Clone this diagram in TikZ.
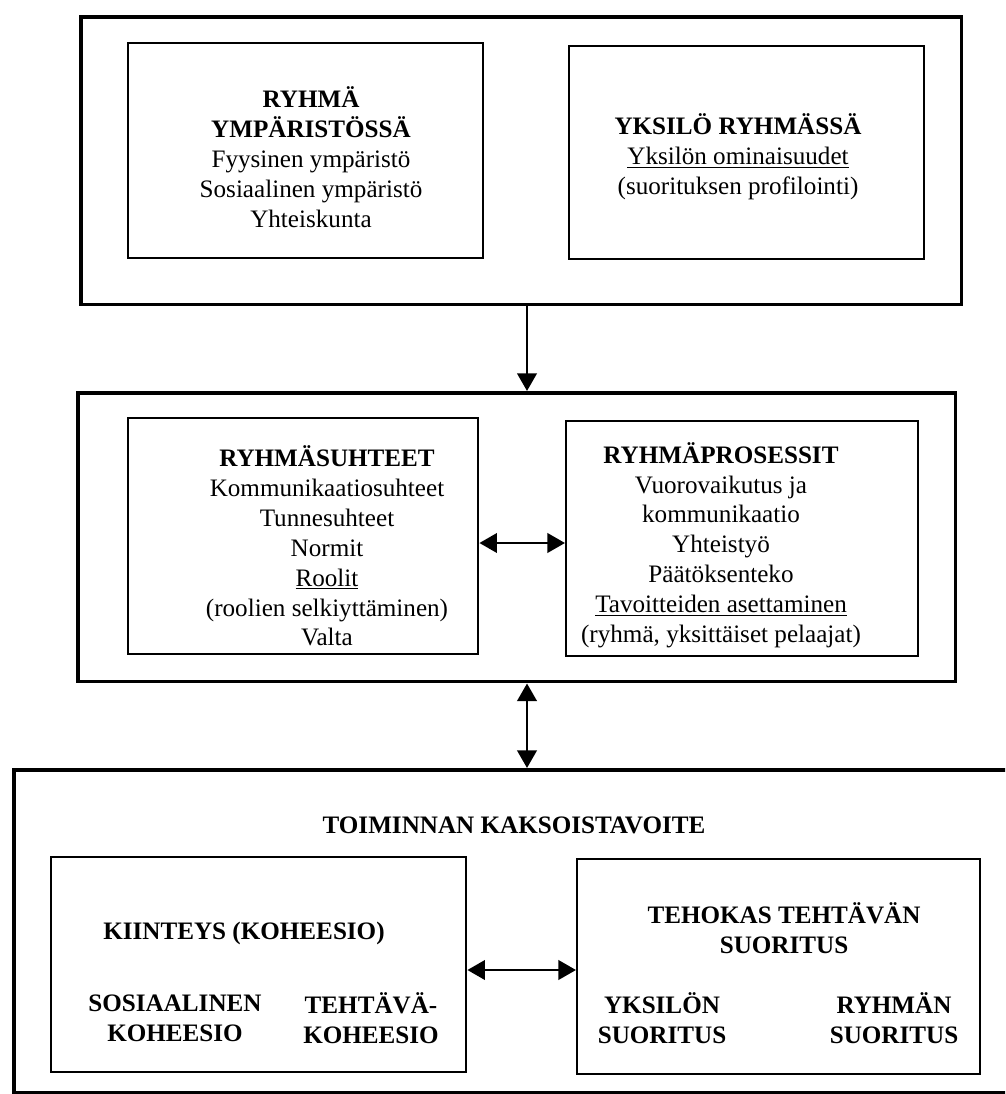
\documentclass[tikz,border=0pt]{standalone}
\usepackage{fontspec}
\setmainfont{Liberation Serif}
\usetikzlibrary{arrows.meta}
\tikzset{
  outbox/.style={draw, line width=2pt, inner sep=0pt, anchor=north west},
  inbox/.style={draw, line width=1.4pt, inner sep=0pt, anchor=north west},
  txt/.style={align=center, inner sep=0pt, font=\fontsize{14.3}{17}\selectfont},
  boldtxt/.style={txt, font=\fontsize{14.3}{17.2}\selectfont\bfseries},
  tip/.style={line width=1.6pt},
  arr/.style={tip, -{Triangle[length=10pt,width=11pt]}},
  dblarr/.style={tip, {Triangle[length=10pt,width=11pt]}-{Triangle[length=10pt,width=11pt]}}
}
\begin{document}
\begin{tikzpicture}[x=0.02cm, y=-0.02cm]
  \clip (0,0) rectangle (1005,1094);

  % ryhma ymparistossa / yksilo ryhmassa
  \node[outbox, minimum width=17.62cm, minimum height=5.76cm] (outA) at (79,15) {};
  \node[inbox, minimum width=7.1cm, minimum height=4.3cm] (envbox) at (127,42) {};
  \node[inbox, minimum width=7.1cm, minimum height=4.26cm] (indbox) at (568,45) {};
  \node[txt] (envtxt) at (311,157)
    {\textbf{RYHMÄ}\\\textbf{YMPÄRISTÖSSÄ}\\Fyysinen ympäristö\\
     Sosiaalinen ympäristö\\Yhteiskunta};
  \node[txt] (indtxt) at (738,157)
    {\textbf{YKSILÖ RYHMÄSSÄ}\\\underline{Yksilön ominaisuudet}\\
     (suorituksen profilointi)};

  % ryhmasuhteet / ryhmaprosessit
  \node[outbox, minimum width=17.56cm, minimum height=5.78cm] (outB) at (76,391) {};
  \node[inbox, minimum width=7.0cm, minimum height=4.72cm] (relbox) at (127,417) {};
  \node[inbox, minimum width=7.04cm, minimum height=4.7cm] (procbox) at (565,420) {};
  \node[txt] (reltxt) at (327,546)
    {\textbf{RYHMÄSUHTEET}\\Kommunikaatiosuhteet\\Tunnesuhteet\\Normit\\
     \underline{Roolit}\\(roolien selkiyttäminen)\\Valta};
  \node[txt] (proctxt) at (721,545)
    {\textbf{RYHMÄPROSESSIT}\\Vuorovaikutus ja\\kommunikaatio\\Yhteistyö\\
     Päätöksenteko\\\underline{Tavoitteiden asettaminen}\\(ryhmä, yksittäiset pelaajat)};

  % toiminnan kaksoistavoite
  \node[outbox, minimum width=20.06cm, minimum height=6.46cm] (outC) at (12,768) {};
  \node[inbox, minimum width=8.3cm, minimum height=4.3cm] (cohbox) at (50,856) {};
  \node[inbox, minimum width=8.06cm, minimum height=4.3cm] (perfbox) at (576,858) {};
  \node[boldtxt] (goaltxt) at (514,825) {TOIMINNAN KAKSOISTAVOITE};
  \node[boldtxt] (cohtxt) at (244,933) {KIINTEYS (KOHEESIO)};
  \node[boldtxt] (soctxt) at (175,1018) {SOSIAALINEN\\KOHEESIO};
  \node[boldtxt] (tasktxt) at (371,1018) {TEHTÄVÄ-\\KOHEESIO};
  \node[boldtxt] (perftxt) at (784,928) {TEHOKAS TEHTÄVÄN\\SUORITUS};
  \node[boldtxt] (indperf) at (662,1018) {YKSILÖN\\SUORITUS};
  \node[boldtxt] (grpperf) at (894,1018) {RYHMÄN\\SUORITUS};

  % arrows
  \coordinate (axis) at (527,0);
  \coordinate (midy) at (0,543);
  \coordinate (lowy) at (0,970);
  \draw[arr] (axis |- outA.south) -- (axis |- outB.north);
  \draw[dblarr] (relbox.east |- midy) -- (procbox.west |- midy);
  \draw[dblarr] (axis |- outB.south) -- (axis |- outC.north);
  \draw[dblarr] (cohbox.east |- lowy) -- (perfbox.west |- lowy);
\end{tikzpicture}
\end{document}
